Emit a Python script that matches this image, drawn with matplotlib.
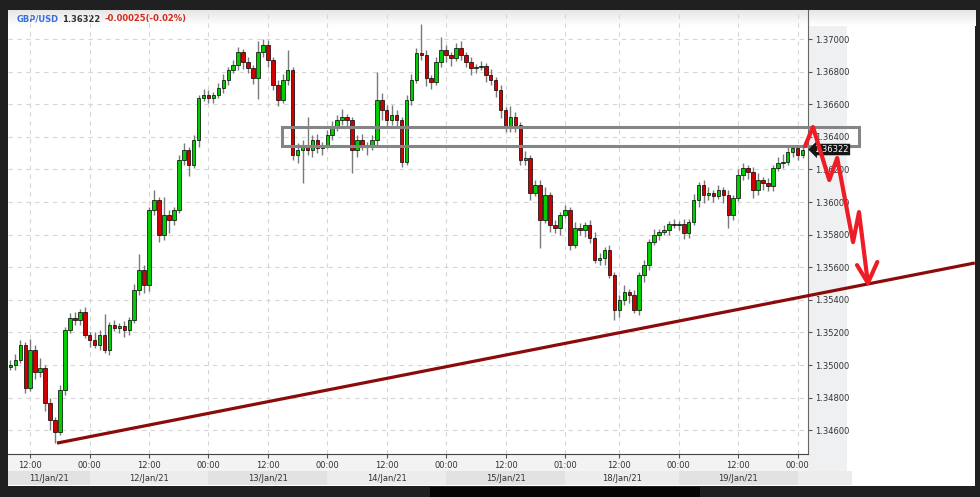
import numpy as np
import matplotlib
matplotlib.use("Agg")
import matplotlib.pyplot as plt
import matplotlib.transforms as mtransforms
from matplotlib.patches import Rectangle

# GBP/USD hourly candles, 11/Jan/21 morning -> 20/Jan/21 00:00
first_open = 1.34988
close = [
    1.35000, 1.35030, 1.35122, 1.34859, 1.35092, 1.34957, 1.34981, 1.34767, 1.34662, 1.34589,
    1.34846, 1.35214, 1.35288, 1.35276, 1.35325, 1.35184, 1.35153, 1.35122, 1.35184, 1.35092,
    1.35245, 1.35227, 1.35239, 1.35214, 1.35276, 1.35460, 1.35583, 1.35491, 1.35951, 1.36012,
    1.35797, 1.35920, 1.35889, 1.35951, 1.36257, 1.36319, 1.36227, 1.36380, 1.36638, 1.36656,
    1.36638, 1.36656, 1.36699, 1.36748, 1.36810, 1.36840, 1.36920, 1.36859, 1.36822, 1.36761,
    1.36920, 1.36963, 1.36871, 1.36718, 1.36626, 1.36748, 1.36810, 1.36288, 1.36319, 1.36349,
    1.36319, 1.36380, 1.36331, 1.36349, 1.36411, 1.36454, 1.36503, 1.36521, 1.36503, 1.36319,
    1.36380, 1.36349, 1.36337, 1.36380, 1.36626, 1.36564, 1.36503, 1.36534, 1.36503, 1.36245,
    1.36626, 1.36748, 1.36914, 1.36902, 1.36761, 1.36736, 1.36859, 1.36932, 1.36902, 1.36883,
    1.36945, 1.36902, 1.36859, 1.36822, 1.36828, 1.36834, 1.36779, 1.36748, 1.36687, 1.36564,
    1.36460, 1.36521, 1.36472, 1.36257, 1.36270, 1.36055, 1.36104, 1.35889, 1.36043, 1.35859,
    1.35840, 1.35920, 1.35951, 1.35736, 1.35840, 1.35828, 1.35859, 1.35779, 1.35644, 1.35656,
    1.35705, 1.35552, 1.35337, 1.35399, 1.35448, 1.35429, 1.35337, 1.35552, 1.35613, 1.35754,
    1.35797, 1.35816, 1.35828, 1.35865, 1.35859, 1.35865, 1.35810, 1.35877, 1.36012, 1.36104,
    1.36043, 1.36055, 1.36037, 1.36073, 1.36043, 1.35920, 1.36024, 1.36165, 1.36208, 1.36184,
    1.36073, 1.36135, 1.36116, 1.36098, 1.36208, 1.36239, 1.36245, 1.36307, 1.36331, 1.36288,
    1.36322,
]
# shadow lengths in pips above / below the body
wick_up = [
    3, 4, 3, 2, 7, 3, 6, 2, 3, 2, 3, 2, 3, 4, 2, 3, 2, 5, 3, 13,
    2, 3, 2, 3, 2, 4, 10, 3, 2, 6, 2, 11, 3, 2, 3, 4, 2, 3, 2, 4,
    3, 2, 3, 4, 2, 3, 3, 2, 3, 2, 7, 4, 3, 2, 3, 4, 12, 2, 4, 3,
    17, 3, 4, 2, 3, 4, 3, 5, 2, 2, 3, 4, 2, 3, 17, 4, 3, 6, 3, 2,
    3, 4, 3, 18, 3, 2, 3, 8, 3, 2, 3, 4, 2, 3, 2, 3, 2, 4, 2, 3,
    2, 7, 3, 2, 4, 2, 3, 3, 5, 2, 3, 2, 3, 2, 4, 3, 2, 3, 4, 3,
    2, 3, 2, 3, 4, 2, 3, 2, 3, 2, 4, 2, 3, 2, 3, 2, 3, 2, 4, 2,
    3, 4, 2, 3, 2, 3, 2, 4, 3, 2, 3, 4, 2, 3, 2, 4, 5, 3, 2, 2,
    2,
]
wick_dn = [
    2, 3, 2, 3, 2, 4, 3, 5, 6, 7, 2, 3, 2, 3, 3, 2, 4, 2, 3, 2,
    3, 2, 3, 4, 3, 2, 3, 5, 4, 3, 4, 3, 8, 3, 2, 3, 7, 2, 4, 2,
    3, 3, 2, 3, 3, 2, 3, 4, 3, 4, 13, 3, 4, 3, 4, 2, 3, 3, 5, 20,
    3, 4, 3, 4, 2, 3, 2, 3, 4, 14, 4, 3, 5, 2, 3, 6, 4, 3, 5, 3,
    2, 3, 2, 3, 5, 4, 2, 3, 4, 5, 2, 3, 3, 4, 3, 2, 4, 3, 4, 5,
    3, 3, 4, 3, 3, 4, 2, 17, 2, 4, 3, 4, 2, 3, 2, 3, 4, 3, 2, 3,
    4, 2, 6, 4, 3, 5, 2, 3, 4, 3, 2, 3, 2, 3, 2, 3, 4, 3, 2, 4,
    5, 3, 4, 2, 5, 8, 3, 2, 3, 4, 5, 3, 4, 3, 3, 2, 3, 2, 3, 3,
    2,
]
last_price = "1.36322"

tick_pos = [4, 16, 28, 40, 52, 64, 76, 88, 100, 112, 123, 135, 147, 159]
tick_labels = ["12:00", "00:00", "12:00", "00:00", "12:00", "00:00", "12:00",
               "00:00", "12:00", "01:00", "12:00", "00:00", "12:00", "00:00"]
day_edges = [-0.5, 16, 40, 64, 88, 112, 135, 159, 169.9]
day_labels = ["11/Jan/21", "12/Jan/21", "13/Jan/21", "14/Jan/21",
              "15/Jan/21", "18/Jan/21", "19/Jan/21", ""]
price_ticks = [1.346, 1.348, 1.350, 1.352, 1.354, 1.356, 1.358,
               1.360, 1.362, 1.364, 1.366, 1.368, 1.370]

# hand-drawn markup on the chart
trend_x = [9.4, 194.8]
trend_y = [1.34521, 1.35626]
zone_x = [54.9, 171.4]
zone_y = [1.36343, 1.36460]
arrow_x = [160.5, 162.1, 165.4, 167.0, 170.2, 171.4, 173.2]
arrow_y = [1.36343, 1.36460, 1.36135, 1.36270, 1.35754, 1.35938, 1.35503]
head_x = [171.0, 173.2, 175.1]
head_y = [1.35613, 1.35503, 1.35632]

fig = plt.figure(figsize=(9.8, 4.97), dpi=100, facecolor="#202020")

# background panels (pixel coords)
bg = fig.add_axes([0, 0, 1, 1], zorder=0)
bg.set_xlim(0, 980)
bg.set_ylim(497, 0)
bg.axis("off")
bg.add_patch(Rectangle((8, 10), 967, 476, fc="white", ec="none"))
bg.add_patch(Rectangle((808, 10), 39, 461, fc="#eff0f2", ec="none"))
bg.add_patch(Rectangle((8, 454), 800, 17, fc="#f3f3f3", ec="none"))
bg.add_patch(Rectangle((430, 487), 270, 10, fc="#050505", ec="none"))
grad = np.linspace(0.9, 1.0, 50)[:, None] * np.ones((1, 2))
bg.imshow(grad, cmap="gray", vmin=0, vmax=1, extent=[8, 975, 26, 10],
          aspect="auto", zorder=1)
bg.set_xlim(0, 980)
bg.set_ylim(497, 0)
bg.text(17, 19, "GBP/USD", color="#3a6de0", fontsize=6, fontweight="bold", va="center")
bg.text(62, 19, "1.36322", color="#333333", fontsize=6, fontweight="bold", va="center")
bg.text(104, 19, "-0.00025(-0.02%)", color="#d42a1c", fontsize=6, fontweight="bold",
        va="center")

ax = fig.add_axes([8 / 980, 43 / 497, 800 / 980, 444 / 497], zorder=1)
ax.set_facecolor("none")

x = np.arange(len(close))
c = np.array(close)
o = np.array([first_open] + close[:-1])
top = np.maximum(o, c)
bot = np.minimum(o, c)
hi = top + np.array(wick_up) * 1e-4
lo = bot - np.array(wick_dn) * 1e-4
up = c >= o

ax.vlines(x, lo, hi, color="#7a7a7a", lw=1, zorder=2)
ax.bar(x[up], (c - o)[up], bottom=o[up], width=0.72, color="#00cc00",
       edgecolor="black", linewidth=0.5, zorder=3)
ax.bar(x[~up], (c - o)[~up], bottom=o[~up], width=0.72, color="#d00000",
       edgecolor="black", linewidth=0.5, zorder=3)

ax.plot(trend_x, trend_y, color="#8b0a0a", lw=2.3, clip_on=False, zorder=4,
        solid_capstyle="butt")
ax.add_patch(Rectangle((zone_x[0], zone_y[0]), zone_x[1] - zone_x[0],
                       zone_y[1] - zone_y[0], fill=False, ec="#858585",
                       lw=2.2, clip_on=False, zorder=5))

ax.set_xticks(tick_pos)
ax.set_xticklabels(tick_labels)
ax.set_yticks(price_ticks)
ax.set_yticklabels([f"{p:.5f}" for p in price_ticks])
ax.yaxis.tick_right()
ax.tick_params(axis="both", direction="out", length=3, width=0.8, color="#555555",
               labelsize=6, labelcolor="#333333", pad=2)
ax.grid(True, ls=(0, (4, 4)), color="#d6d6d6", lw=0.8)
ax.set_axisbelow(True)
for side in ["left", "top"]:
    ax.spines[side].set_visible(False)
ax.spines["right"].set_color("#666666")
ax.spines["bottom"].set_color("#444444")

# day strip under the time labels
blend = mtransforms.blended_transform_factory(ax.transData, ax.transAxes)
for k, lab in enumerate(day_labels):
    a, b = day_edges[k], day_edges[k + 1]
    shade = "#e2e2e2" if k % 2 == 0 else "#ececec"
    ax.add_patch(Rectangle((a, -0.0698), b - a, 0.0315, transform=blend,
                           fc=shade, ec="none", clip_on=False, zorder=0))
    ax.text((a + b) / 2, -0.0545, lab, transform=blend, ha="center", va="center",
            fontsize=6, color="#333333", clip_on=False)

# last price tag
tag = mtransforms.blended_transform_factory(ax.transAxes, ax.transData)
ax.text(1.008, c[-1], last_price, transform=tag, fontsize=6, color="white",
        va="center", ha="left", zorder=6,
        bbox=dict(boxstyle="larrow,pad=0.15", fc="#151515", ec="none"))

ax.plot(arrow_x, arrow_y, color="#ee1c25", lw=3, clip_on=False, zorder=7,
        solid_joinstyle="round", solid_capstyle="round")
ax.plot(head_x, head_y, color="#ee1c25", lw=3, clip_on=False, zorder=7,
        solid_joinstyle="round", solid_capstyle="round")

ax.set_xlim(-0.5, 161.1)
ax.set_ylim(1.34454, 1.37178)

fig.savefig("out.png", dpi=100, facecolor=fig.get_facecolor())
